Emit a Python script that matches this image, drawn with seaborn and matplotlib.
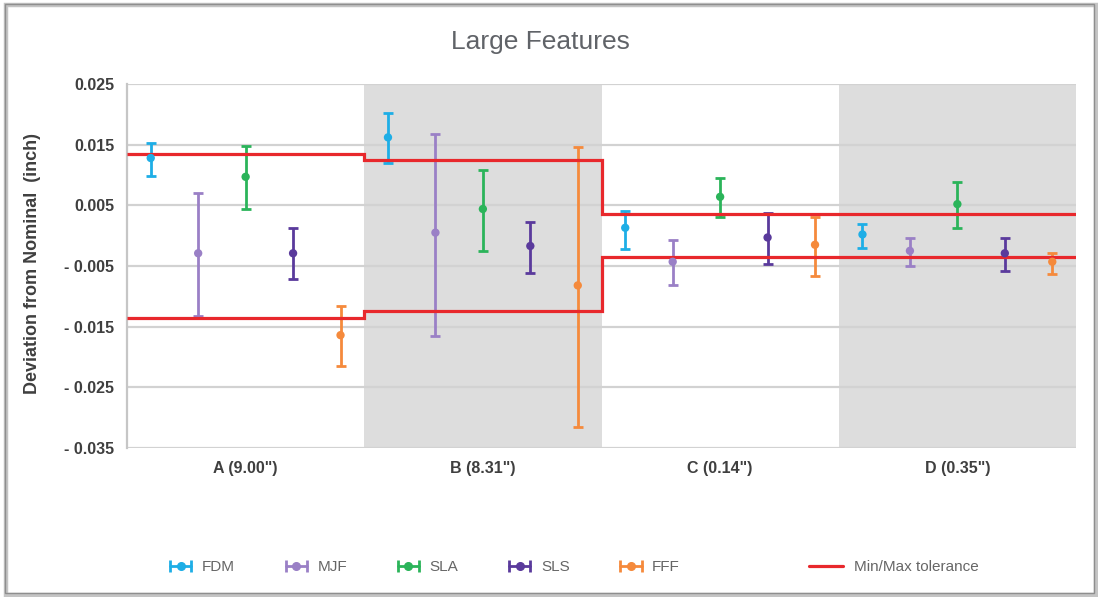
import numpy as np
import pandas as pd
import seaborn as sns
import matplotlib
matplotlib.use("Agg")
import matplotlib.pyplot as plt
from matplotlib.lines import Line2D
from matplotlib.legend_handler import HandlerBase
from matplotlib.patches import Rectangle

# ---- data -------------------------------------------------------------
features = ['A (9.00")', 'B (8.31")', 'C (0.14")', 'D (0.35")']
processes = ["FDM", "MJF", "SLA", "SLS", "FFF"]

fdm_mean = [0.0128, 0.0162, 0.0013, 0.0002]
fdm_low = [0.0098, 0.0120, -0.0022, -0.0021]
fdm_high = [0.0153, 0.0202, 0.0041, 0.0019]

mjf_mean = [-0.0029, 0.0005, -0.0043, -0.0025]
mjf_low = [-0.0132, -0.0165, -0.0082, -0.0050]
mjf_high = [0.0071, 0.0168, -0.0007, -0.0004]

sla_mean = [0.0097, 0.0044, 0.0064, 0.0052]
sla_low = [0.0044, -0.0025, 0.0031, 0.0012]
sla_high = [0.0148, 0.0108, 0.0095, 0.0088]

sls_mean = [-0.0029, -0.0017, -0.0003, -0.0029]
sls_low = [-0.0071, -0.0062, -0.0047, -0.0059]
sls_high = [0.0012, 0.0023, 0.0037, -0.0004]

fff_mean = [-0.0164, -0.0082, -0.0015, -0.0043]
fff_low = [-0.0215, -0.0316, -0.0066, -0.0064]
fff_high = [-0.0116, 0.0146, 0.0030, -0.0028]

tolerance = [0.0135, 0.0125, 0.0035, 0.0035]

y_ticks = [0.025, 0.015, 0.005, -0.005, -0.015, -0.025, -0.035]
y_tick_labels = ["0.025", "0.015", "0.005", "- 0.005", "- 0.015", "- 0.025", "- 0.035"]

colors = {
    "FDM": "#1eaee6",
    "MJF": "#9a80c6",
    "SLA": "#2bb45a",
    "SLS": "#5a3a9c",
    "FFF": "#f58a3c",
}
tol_color = "#e8282c"

series = {
    "FDM": (fdm_mean, fdm_low, fdm_high),
    "MJF": (mjf_mean, mjf_low, mjf_high),
    "SLA": (sla_mean, sla_low, sla_high),
    "SLS": (sls_mean, sls_low, sls_high),
    "FFF": (fff_mean, fff_low, fff_high),
}

# ---- long-form table ---------------------------------------------------
n_proc = len(processes)
offsets = np.linspace(-0.4, 0.4, n_proc)
rows = []
for pi, proc in enumerate(processes):
    mean, low, high = series[proc]
    for fi in range(len(features)):
        rows.append({"process": proc, "pos": fi + offsets[pi],
                     "mean": mean[fi], "low": low[fi], "high": high[fi]})
df = pd.DataFrame(rows)

# ---- styling -----------------------------------------------------------
sns.set_theme(style="white")
plt.rcParams["font.family"] = ["Liberation Sans", "DejaVu Sans"]

W, H = 1098, 597
fig = plt.figure(figsize=(W / 100, H / 100), dpi=100)
fig.patch.set_facecolor("white")

# outer frame with a soft shadow
fig.add_artist(Rectangle((6 / W, 2 / H), 1090 / W, 590 / H, transform=fig.transFigure,
                         fill=False, edgecolor="#c4c4c4", lw=3.2, zorder=0))
fig.add_artist(Rectangle((5 / W, 4 / H), 1089 / W, 589 / H, transform=fig.transFigure,
                         fill=False, edgecolor="#8e8e8e", lw=1.0, zorder=1))

ax = fig.add_axes([127 / W, 1 - 448 / H, 949 / W, 364 / H])
ax.set_facecolor("white")

# alternating shaded bands for features B and D
for fi in range(len(features)):
    if fi % 2 == 1:
        ax.axvspan(fi - 0.5, fi + 0.5, color="#dddddd", lw=0, zorder=0.1)

ax.set_xlim(-0.5, len(features) - 0.5)
ax.set_ylim(min(y_ticks), max(y_ticks))
ax.set_yticks(y_ticks)
ax.set_yticklabels(y_tick_labels)
ax.set_xticks(range(len(features)))
ax.set_xticklabels(features)

ax.set_axisbelow(True)
ax.yaxis.grid(True, color="#d2d2d2", lw=1.6)
ax.xaxis.grid(False)
for side in ["top", "right", "bottom"]:
    ax.spines[side].set_visible(False)
ax.spines["left"].set_color("#c6c6c6")
ax.spines["left"].set_linewidth(1.6)
ax.tick_params(axis="both", length=0, labelsize=11.5, labelcolor="#3f3f3f")
ax.tick_params(axis="y", pad=9)
ax.tick_params(axis="x", pad=9)
for lab in ax.get_xticklabels() + ax.get_yticklabels():
    lab.set_fontweight("bold")

# error bars per process
for proc in processes:
    sub = df[df["process"] == proc]
    yerr = [sub["mean"] - sub["low"], sub["high"] - sub["mean"]]
    ax.errorbar(sub["pos"], sub["mean"], yerr=yerr, fmt="none",
                ecolor=colors[proc], elinewidth=2.0, capsize=3.8, capthick=2.0, zorder=3)

# tolerance band (stepped upper and lower limits)
edges = np.arange(len(features) + 1) - 0.5
tol = np.array(tolerance)
ax.stairs(tol, edges, baseline=None, color=tol_color, lw=2.3, zorder=4)
ax.stairs(-tol, edges, baseline=None, color=tol_color, lw=2.3, zorder=4)

# centre points
sns.scatterplot(data=df, x="pos", y="mean", hue="process", palette=colors,
                hue_order=processes, s=36, edgecolor="none", legend=False,
                zorder=5, ax=ax)
ax.set_xlabel("")
ax.set_ylabel("")

# titles
fig.text(540 / W, 1 - 42 / H, "Large Features", ha="center", va="center",
         fontsize=19, color="#606368")
fig.text(33 / W, 1 - 264 / H, "Deviation from Nominal  (inch)", rotation=90,
         ha="center", va="center", fontsize=13, fontweight="bold", color="#3f3f3f")


# ---- legend ------------------------------------------------------------
class HandlerCappedBar(HandlerBase):
    def create_artists(self, legend, orig_handle, xdescent, ydescent,
                       width, height, fontsize, trans):
        c = orig_handle.get_color()
        y = height / 2 - ydescent
        x0 = -xdescent
        x1 = x0 + width
        bar = Line2D([x0, x1], [y, y], color=c, lw=2.0, transform=trans)
        caps = Line2D([x0, x1], [y, y], ls="none", marker="|", ms=8, mew=2.0,
                      color=c, transform=trans)
        dot = Line2D([(x0 + x1) / 2], [y], ls="none", marker="o", ms=5.5,
                     color=c, transform=trans)
        return [bar, caps, dot]


proc_handles = [Line2D([], [], color=colors[p]) for p in processes]
leg1 = fig.legend(proc_handles, processes, loc="center",
                  bbox_to_anchor=(425 / W, 1 - 567 / H), ncol=n_proc, frameon=False,
                  fontsize=11, handlelength=1.4, handletextpad=0.7, columnspacing=3.3,
                  handler_map={h: HandlerCappedBar() for h in proc_handles})
for t in leg1.get_texts():
    t.set_color("#666666")

tol_handle = Line2D([], [], color=tol_color, lw=2.3)
leg2 = fig.legend([tol_handle], ["Min/Max tolerance"], loc="center",
                  bbox_to_anchor=(894 / W, 1 - 567 / H), frameon=False,
                  fontsize=11, handlelength=2.2, handletextpad=0.7)
for t in leg2.get_texts():
    t.set_color("#666666")

fig.savefig("out.png", dpi=100, facecolor="white")
